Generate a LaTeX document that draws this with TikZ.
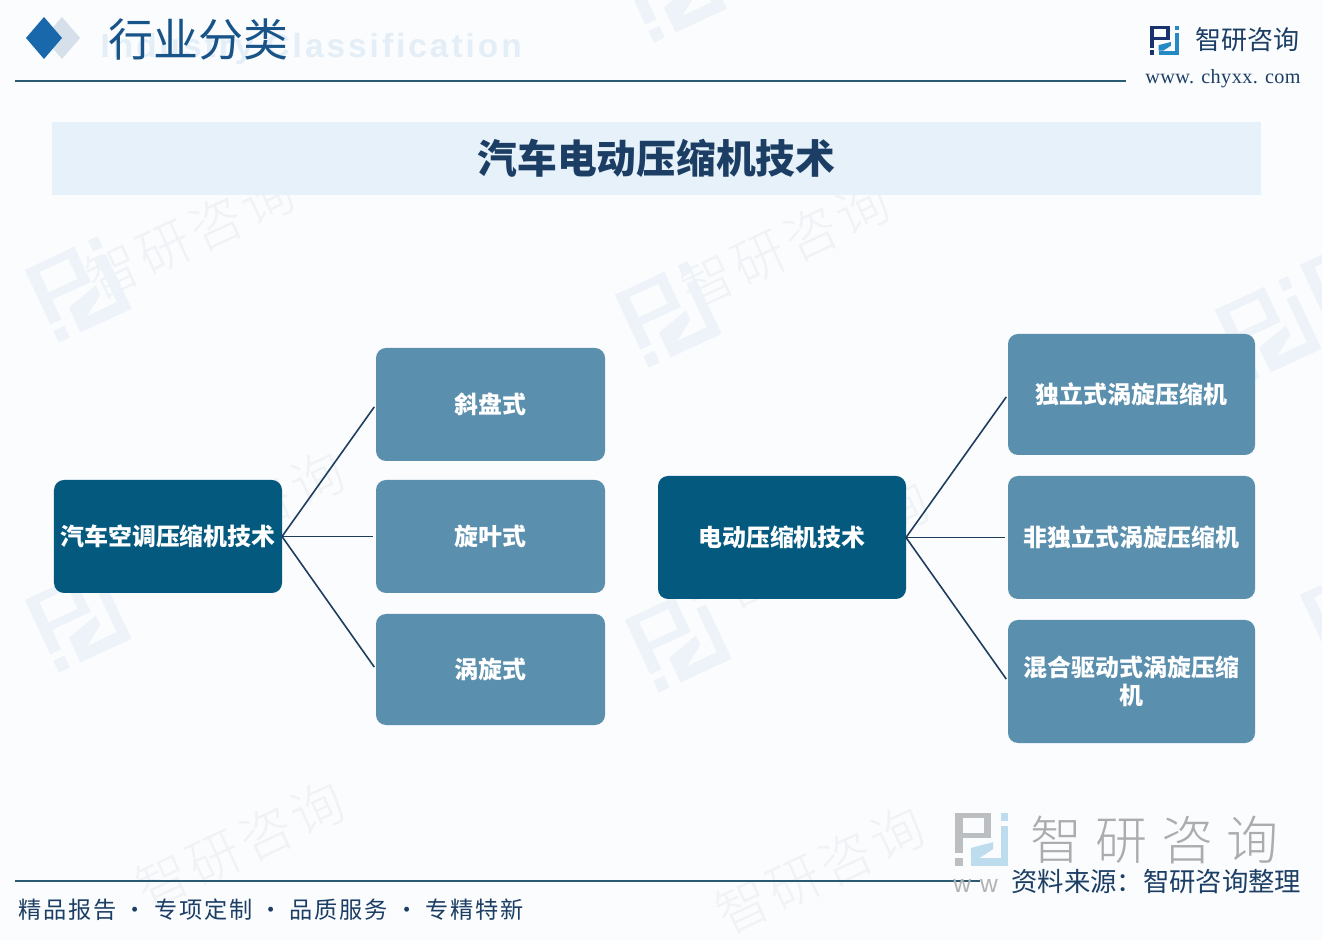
\documentclass[tikz,border=0pt]{standalone}
\usepackage{fontspec}
\usepackage{tikz}
\usetikzlibrary{arrows.meta,positioning,calc}
\setmainfont{Noto Sans CJK SC}
\newfontfamily\widecjk{Noto Sans CJK SC}[LetterSpace=8]
\newfontfamily\bigcjk{Noto Sans CJK SC Light}[LetterSpace=26]
\newfontfamily\markfont{Noto Sans CJK SC Light}[LetterSpace=8]
\newfontfamily\urlfont{Liberation Serif}[LetterSpace=2]
\newfontfamily\ghostfont{Liberation Sans}[LetterSpace=9]
\definecolor{pagetint}{RGB}{250,252,254}
\definecolor{bandtint}{RGB}{230,241,249}
\definecolor{rootblue}{RGB}{4,89,127}
\definecolor{leafblue}{RGB}{91,143,174}
\definecolor{linedark}{RGB}{30,60,92}
\definecolor{ruleteal}{RGB}{44,90,112}
\definecolor{inkblue}{RGB}{24,84,136}
\definecolor{inknavy}{RGB}{28,62,100}
\definecolor{diamondblue}{RGB}{26,104,172}
\definecolor{diamondpale}{RGB}{213,224,234}
\definecolor{marknavy}{RGB}{26,50,110}
\definecolor{markblue}{RGB}{36,138,196}
\definecolor{wmgray}{RGB}{240,243,246}
\definecolor{wmblue}{RGB}{237,243,249}
\definecolor{ghosttint}{RGB}{228,238,247}
\tikzset{
 pics/logomark/.style n args={2}{code={
  \fill[#1] (0,0) rectangle (.68,.1);
  \fill[#1] (.55,0) rectangle (.68,.48);
  \fill[#1] (.15,.38) rectangle (.68,.48);
  \fill[#1] (0,0) rectangle (.15,.75);
  \fill[#1] (0,.84) rectangle (.15,1);
  \fill[#2] (.87,0) rectangle (1,.15);
  \fill[#2] (.87,.25) rectangle (1,1);
  \fill[#2] (.3,.85) rectangle (1,1);
  \fill[#2] (.3,.85) -- (.3,.66) -- (.72,.55) -- (.72,.68) -- (.46,.85) -- cycle;
 }}
}
\begin{document}
\begin{tikzpicture}[x=0.2mm,y=-0.2mm,
 rootbox/.style={fill=rootblue,rounded corners=2mm,outer sep=0pt,text=white,font=\fontsize{13.6}{16}\selectfont\bfseries,align=center,minimum width=#1},
 leafbox/.style={fill=leafblue,rounded corners=2mm,outer sep=0pt,text=white,font=\fontsize{13.6}{16}\selectfont\bfseries,align=center,minimum width=#1},
 link/.style={draw=linedark,line width=0.9pt,shorten >=0.6mm},
 wmtext/.style={text=wmgray,rotate=25,font=\markfont\fontsize{30}{34}\selectfont},
 node distance=4.2mm and 20.4mm]
\useasboundingbox (0,0) rectangle (1322,940);
\fill[pagetint] (0,0) rectangle (1322,940);

% watermarks
\node[wmtext] (wma) at (190,235) {智研咨询};
\node[wmtext] (wmb) at (785,245) {智研咨询};
\node[wmtext] (wmc) at (240,845) {智研咨询};
\node[wmtext] (wmd) at (820,870) {智研咨询};
\node[wmtext] (wme) at (240,515) {智研咨询};
\node[wmtext] (wmf) at (825,545) {智研咨询};
\pic[rotate=25,scale=80] at (25,270) {logomark={wmblue}{wmblue}};
\pic[rotate=25,scale=80] at (615,295) {logomark={wmblue}{wmblue}};
\pic[rotate=25,scale=80] at (25,600) {logomark={wmblue}{wmblue}};
\pic[rotate=25,scale=80] at (625,620) {logomark={wmblue}{wmblue}};
\pic[rotate=25,scale=80] at (1215,310) {logomark={wmblue}{wmblue}};
\pic[rotate=25,scale=80] at (620,-30) {logomark={wmblue}{wmblue}};
\pic[rotate=25,scale=80] at (1300,265) {logomark={wmblue}{wmblue}};
\pic[rotate=25,scale=80] at (1300,595) {logomark={wmblue}{wmblue}};

% header
\node[text=ghosttint,anchor=east,font=\ghostfont\fontsize{19}{21}\selectfont\bfseries] (ghost) at (528,49) {Industry Classification};
\fill[diamondpale] (62,17) -- (80,38) -- (62,59) -- (44,38) -- cycle;
\fill[diamondblue] (44,17) -- (62,38) -- (44,59) -- (26,38) -- cycle;
\node[text=inkblue,anchor=west,inner sep=0pt,font=\fontsize{25.6}{28}\selectfont] (head) at (108,39) {行业分类};
\draw[ruleteal,line width=1pt] (15,81) -- (1126,81);
\pic[scale=29] at (1150,26) {logomark={marknavy}{markblue}};
\node[text=inknavy,anchor=west,inner sep=0pt,font=\fontsize{14.8}{16}\selectfont] (brand) at (1195,40) {智研咨询};
\node[text=inknavy,anchor=west,inner sep=0pt,font=\urlfont\fontsize{11.5}{13}\selectfont] (site) at (1145,79) {www. chyxx. com};

% title band
\node[fill=bandtint,minimum width=241.8mm,minimum height=14.6mm,outer sep=0pt,text=inknavy,font=\fontsize{22.6}{26}\selectfont\bfseries] (band) at (656.5,158.5) {汽车电动压缩机技术};

% first tree
\node[rootbox=45.6mm,minimum height=22.6mm] (rootl) at (168,536.5) {汽车空调压缩机技术};
\node[leafbox=45.8mm,minimum height=22.6mm,right=18.8mm of rootl] (vane) {旋叶式};
\node[leafbox=45.8mm,minimum height=22.6mm,above=3.8mm of vane] (swash) {斜盘式};
\node[leafbox=45.8mm,minimum height=22.2mm,below=4.2mm of vane] (scroll) {涡旋式};
\draw[link] (rootl.east) -- (swash.west);
\draw[link] (rootl.east) -- (vane.west);
\draw[link] (rootl.east) -- (scroll.west);

% second tree
\node[rootbox=49.6mm,minimum height=24.6mm] (rootr) at (782,537.5) {电动压缩机技术};
\node[leafbox=49.4mm,minimum height=24.6mm,right=20.4mm of rootr] (semi) {非独立式涡旋压缩机};
\node[leafbox=49.4mm,minimum height=24.2mm,above=of semi] (solo) {独立式涡旋压缩机};
\node[leafbox=49.4mm,minimum height=24.6mm,below=of semi] (hybrid) {混合驱动式涡旋压缩\\机};
\draw[link] (rootr.east) -- (solo.west);
\draw[link] (rootr.east) -- (semi.west);
\draw[link] (rootr.east) -- (hybrid.west);

% footer
\draw[ruleteal,line width=1pt] (15,881) -- (980,881);
\node[text=inknavy,anchor=west,inner sep=0pt,font=\widecjk\fontsize{13.2}{15}\selectfont] (motto) at (18,910) {精品报告 · 专项定制 · 品质服务 · 专精特新};
\pic[scale=53] at (955,813) {logomark={gray!45!wmblue}{markblue!30!white}};
\node[text=gray!65,anchor=west,inner sep=0pt,font=\bigcjk\fontsize{29.6}{32}\selectfont] (bigbrand) at (1030,840) {智研咨询};
\node[text=gray!60,anchor=west,inner sep=0pt,font=\ghostfont\fontsize{14}{16}\selectfont] (wsite) at (953,886) {w w};
\node[text=inknavy,anchor=west,inner sep=0pt,font=\fontsize{15}{17}\selectfont] (source) at (1011,882) {资料来源：智研咨询整理};
\end{tikzpicture}
\end{document}
